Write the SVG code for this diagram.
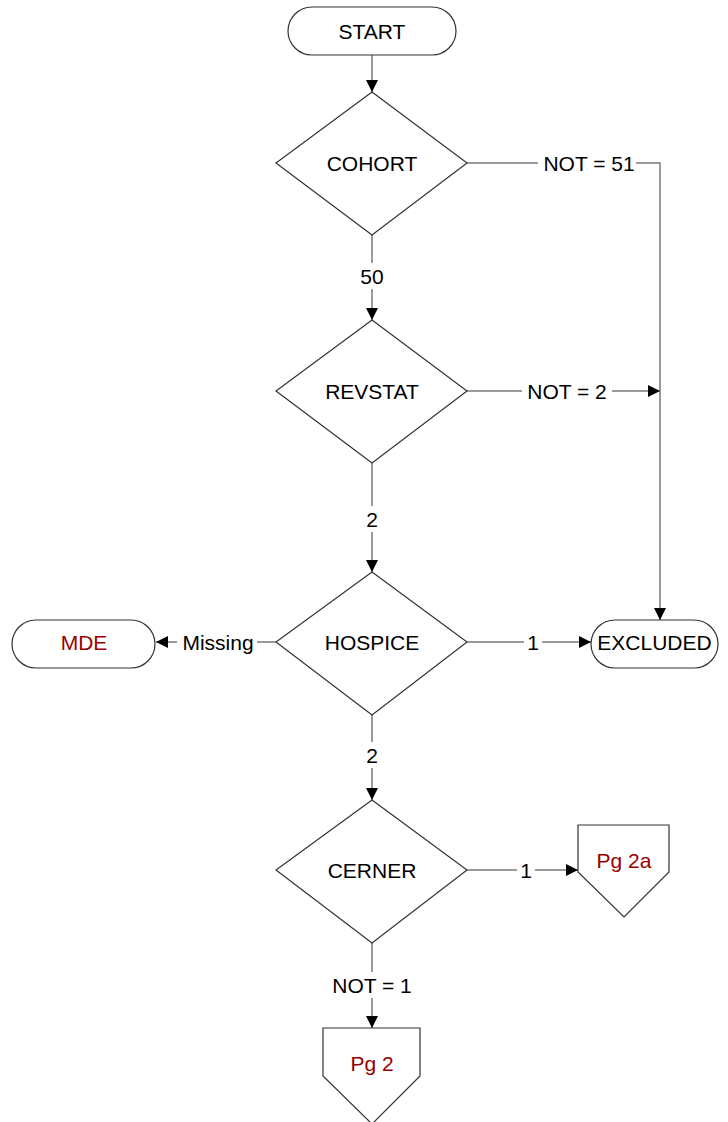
<svg xmlns="http://www.w3.org/2000/svg" width="728" height="1122" viewBox="0 0 728 1122">
<defs>
<style>
.shape{fill:#fff;stroke:#333;stroke-width:1.2}
.conn{fill:none;stroke:#7a7a7a;stroke-width:1.5}
.t{font-family:"Liberation Sans",Arial,sans-serif;font-size:21px;fill:#000;text-anchor:middle;dominant-baseline:central}
.red{fill:#990000}
.lbl{fill:#fff;stroke:none}
</style>
<marker id="arr" viewBox="0 0 12 12" refX="12" refY="6" markerWidth="12" markerHeight="12" markerUnits="userSpaceOnUse" orient="auto">
<path d="M0,0 L12,6 L0,12 z" fill="#000"/>
</marker>
</defs>
<rect width="728" height="1122" fill="#fff"/>
<g id="connectors">
<path class="conn" d="M372,55 V92" marker-end="url(#arr)"/>
<path class="conn" d="M467,163 H660 V620" marker-end="url(#arr)"/>
<path class="conn" d="M372,235 V320" marker-end="url(#arr)"/>
<path class="conn" d="M467,391 H660" marker-end="url(#arr)"/>
<path class="conn" d="M372,463 V572" marker-end="url(#arr)"/>
<path class="conn" d="M467,642 H591" marker-end="url(#arr)"/>
<path class="conn" d="M276,642 H156" marker-end="url(#arr)"/>
<path class="conn" d="M372,715 V800" marker-end="url(#arr)"/>
<path class="conn" d="M467,870 H578" marker-end="url(#arr)"/>
<path class="conn" d="M372,943 V1028" marker-end="url(#arr)"/>
<rect class="lbl" x="538" y="150" width="98" height="26"/>
<text class="t" x="589" y="163">NOT = 51</text>
<rect class="lbl" x="360" y="263" width="24" height="26"/>
<text class="t" x="372" y="276">50</text>
<rect class="lbl" x="522" y="378" width="90" height="26"/>
<text class="t" x="567" y="391">NOT = 2</text>
<rect class="lbl" x="364" y="506" width="16" height="26"/>
<text class="t" x="372" y="519">2</text>
<rect class="lbl" x="524" y="629" width="18" height="26"/>
<text class="t" x="533" y="642">1</text>
<rect class="lbl" x="177" y="629" width="80" height="26"/>
<text class="t" x="218" y="642">Missing</text>
<rect class="lbl" x="364" y="742" width="16" height="26"/>
<text class="t" x="372" y="755">2</text>
<rect class="lbl" x="517" y="857" width="18" height="26"/>
<text class="t" x="526" y="870">1</text>
<rect class="lbl" x="328" y="972" width="88" height="26"/>
<text class="t" x="372" y="985">NOT = 1</text>
</g>
<g id="start">
<rect class="shape" x="288" y="7" width="168" height="48" rx="24"/>
<text class="t" x="372" y="31">START</text>
</g>
<g id="cohort">
<path class="shape" d="M372,92 L467,163 L372,235 L276,163 z"/>
<text class="t" x="372" y="163">COHORT</text>
</g>
<g id="revstat">
<path class="shape" d="M372,320 L467,391 L372,463 L276,391 z"/>
<text class="t" x="372" y="391">REVSTAT</text>
</g>
<g id="hospice">
<path class="shape" d="M372,572 L467,642 L372,715 L276,642 z"/>
<text class="t" x="372" y="642">HOSPICE</text>
</g>
<g id="cerner">
<path class="shape" d="M372,800 L467,870 L372,943 L276,870 z"/>
<text class="t" x="372" y="870">CERNER</text>
</g>
<g id="excluded">
<rect class="shape" x="591" y="620" width="127" height="48" rx="24"/>
<text class="t" x="654.5" y="642">EXCLUDED</text>
</g>
<g id="mde">
<rect class="shape" x="12" y="620" width="143" height="48" rx="24"/>
<text class="t red" x="84" y="642">MDE</text>
</g>
<g id="pg2a">
<path class="shape" d="M578,825 H669 V872 L624,917 L578,872 z"/>
<text class="t red" x="624" y="860">Pg 2a</text>
</g>
<g id="pg2">
<path class="shape" d="M323,1028 H420 V1076 L372,1124 L323,1076 z"/>
<text class="t red" x="372" y="1063">Pg 2</text>
</g>
</svg>
